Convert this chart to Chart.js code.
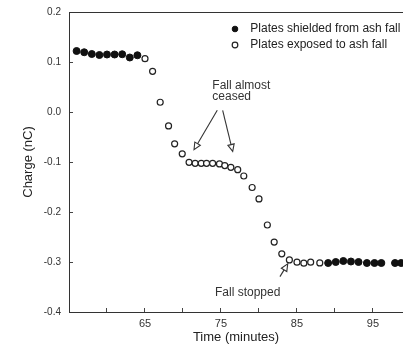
<!DOCTYPE html>
<html><head><meta charset="utf-8">
<script src="https://cdn.jsdelivr.net/npm/chart.js@4"></script>
<style>html,body{margin:0;padding:0;background:#fff;overflow:hidden}</style>
</head><body>
<canvas id="c" width="403" height="347"></canvas>
<script>
// ---- data ----
const shieldedTime   = [56,57,58,59,60,61,62,63,64, 89.1,90.1,91.1,92.1,93.1,94.2,95.2,96.1,97.9,98.7];
const shieldedCharge = [0.122,0.1195,0.116,0.114,0.115,0.115,0.1155,0.109,0.1135,
                        -0.302,-0.300,-0.298,-0.299,-0.300,-0.302,-0.302,-0.302,-0.302,-0.302];
const exposedTime   = [65,66,67,68.1,68.9,69.9,70.8,71.6,72.4,73.1,73.9,74.8,75.5,76.3,77.2,78.0,79.1,80.0,81.1,82.0,83.0,84.0,85.0,85.9,86.8,88.0];
const exposedCharge = [0.1066,0.0813,0.0195,-0.0278,-0.0636,-0.0837,-0.1006,-0.1026,-0.1026,-0.1026,-0.1026,-0.1038,-0.1072,-0.1107,-0.1153,-0.128,-0.151,-0.1738,-0.226,-0.2602,-0.2837,-0.2958,-0.3004,-0.3024,-0.3004,-0.3018];
const seriesNames = ['Plates shielded from ash fall','Plates exposed to ash fall'];
const xTicks = [60,65,70,75,80,85,90,95];
const xLabelTicks = [65,75,85,95];
const yTicks = [-0.4,-0.3,-0.2,-0.1,0.0,0.1,0.2];

// annotations (data coordinates)
const noteText = ['Fall almost','ceased','Fall stopped'];
const noteX = [73.86,73.86,74.21];
const noteY = [0.047,0.0235,-0.368];
const arrowFromX = [74.51,75.22,82.76];
const arrowFromY = [0.0034,0.0034,-0.3292];
const arrowToX = [71.45,76.54,83.78];
const arrowToY = [-0.0754,-0.0788,-0.3038];

const FONT = '"Liberation Sans", Arial, Helvetica, sans-serif';
Chart.defaults.font.family = FONT;
Chart.defaults.color = '#333';

const zip = (xs, ys) => xs.map((x, i) => ({x, y: ys[i]}));

const legendInside = {
  id: 'legendInside',
  afterLayout(chart) {
    const lg = chart.legend; if (!lg) return;
    const a = chart.chartArea;
    lg.left = a.left + 156;
    lg.top = a.top + 7;
    lg.right = chart.width;
    lg.width = lg.right - lg.left;
  }
};

const notes = {
  id: 'notes',
  afterDatasetsDraw(chart) {
    const {ctx, scales: {x, y}} = chart;
    ctx.save();
    ctx.font = '12px ' + FONT;
    ctx.fillStyle = '#333';
    ctx.textAlign = 'left';
    ctx.textBaseline = 'alphabetic';
    noteText.forEach((t, i) => ctx.fillText(t, x.getPixelForValue(noteX[i]), y.getPixelForValue(noteY[i])));
    ctx.strokeStyle = '#333';
    ctx.lineWidth = 1.1;
    arrowFromX.forEach((fx, i) => {
      const x1 = x.getPixelForValue(fx), y1 = y.getPixelForValue(arrowFromY[i]);
      const x2 = x.getPixelForValue(arrowToX[i]), y2 = y.getPixelForValue(arrowToY[i]);
      const dx = x2 - x1, dy = y2 - y1, L = Math.hypot(dx, dy);
      const ux = dx / L, uy = dy / L, hl = 7, hw = 3.2;
      const bx = x2 - ux * hl, by = y2 - uy * hl;
      ctx.beginPath(); ctx.moveTo(x1, y1); ctx.lineTo(bx, by); ctx.stroke();
      ctx.beginPath();
      ctx.moveTo(x2, y2);
      ctx.lineTo(bx - uy * hw, by + ux * hw);
      ctx.lineTo(bx + uy * hw, by - ux * hw);
      ctx.closePath(); ctx.stroke();
    });
    ctx.restore();
  }
};

new Chart(document.getElementById('c'), {
  type: 'scatter',
  data: {
    datasets: [
      {label: seriesNames[0], data: zip(shieldedTime, shieldedCharge), pointStyle: 'circle',
       radius: 3.5, backgroundColor: '#111', borderColor: '#111', borderWidth: 1},
      {label: seriesNames[1], data: zip(exposedTime, exposedCharge), pointStyle: 'circle',
       radius: 3, backgroundColor: '#fff', borderColor: '#222', borderWidth: 1.2}
    ]
  },
  options: {
    responsive: false, animation: false, devicePixelRatio: 1,
    layout: {autoPadding: false, padding: {left: 0, right: 0, top: 12, bottom: 0}},
    plugins: {
      tooltip: {enabled: false},
      legend: {
        position: 'chartArea', fullSize: false, align: 'start',
        labels: {
          usePointStyle: true, boxWidth: 12, boxHeight: 4, padding: 4, textAlign: 'left',
          font: {size: 12}, color: '#222',
          generateLabels(chart) {
            return Chart.defaults.plugins.legend.labels.generateLabels(chart).map(l => Object.assign(l, {text: ' ' + l.text}));
          }
        }
      }
    },
    scales: {
      x: {
        type: 'linear', position: 'bottom', min: 55, max: 98.95,
        afterBuildTicks: s => { s.ticks = xTicks.map(v => ({value: v})); },
        ticks: {autoSkip: false, maxRotation: 0, padding: 9, font: {size: 11}, color: '#333',
                callback: v => xLabelTicks.includes(Math.round(v)) ? String(Math.round(v)) : ''},
        grid: {drawOnChartArea: false, tickLength: -4, color: '#444', lineWidth: 1},
        border: {color: '#333', width: 1},
        title: {display: true, text: 'Time (minutes)', font: {size: 13}, color: '#222', padding: {top: 0, bottom: 2}},
        afterFit: s => { s.height = 35; s.paddingRight = 0; s.paddingLeft = 0; }
      },
      x2: {
        type: 'linear', position: 'top', min: 55, max: 98.95,
        afterBuildTicks: s => { s.ticks = []; },
        ticks: {display: false},
        grid: {display: true, drawOnChartArea: false, drawTicks: false},
        border: {display: true, color: '#333', width: 1},
        afterFit: s => { s.height = 0; s.paddingRight = 0; s.paddingLeft = 0; }
      },
      y: {
        type: 'linear', position: 'left', min: -0.4, max: 0.2,
        afterBuildTicks: s => { s.ticks = yTicks.map(v => ({value: v})); },
        ticks: {padding: 12, font: {size: 10}, color: '#333',
                callback: v => (Math.round(v * 10) / 10).toFixed(1)},
        grid: {drawOnChartArea: false, tickLength: -4, color: '#444', lineWidth: 1},
        border: {color: '#333', width: 1},
        title: {display: true, text: 'Charge (nC)', font: {size: 13}, color: '#222', padding: {top: 21, bottom: 0}},
        afterFit: s => { s.width = 69; s.paddingTop = 0; s.paddingBottom = 0; }
      }
    }
  },
  plugins: [legendInside, notes]
});
</script>
</body></html>
